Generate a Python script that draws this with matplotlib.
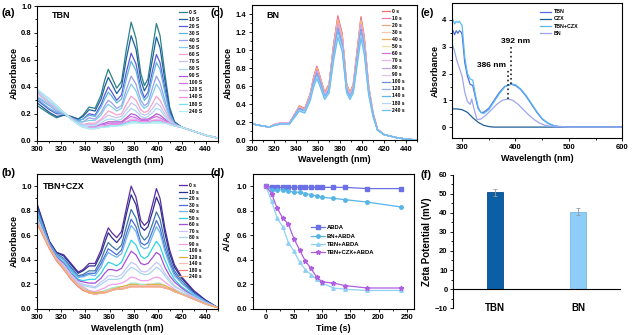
import numpy as np
import matplotlib
matplotlib.use('Agg')
import matplotlib.pyplot as plt

plt.rcParams['font.family'] = ['Liberation Sans', 'DejaVu Sans']
plt.rcParams['font.weight'] = 'bold'
plt.rcParams['axes.labelweight'] = 'bold'

nan = np.nan

# ---- data ----
wl = [300, 310, 316, 322, 328, 334, 338, 343, 348, 353, 356, 359, 362, 366, 370, 374,
      378, 382, 386, 389, 392, 396, 399, 402, 406, 410, 414, 420, 430, 440, 450]

times_a = ['0 S', '10 S', '20 S', '30 S', '40 S', '50 S', '60 S', '70 S',
           '80 S', '90 S', '100 S', '120 S', '140 S', '180 S', '240 S']
times_s = ['0 s', '10 s', '20 s', '30 s', '40 s', '50 s', '60 s', '70 s',
           '80 s', '90 s', '100 s', '120 s', '140 s', '180 s', '240 s']

# (a) TBN
tbn_abs = [
    [0.26, 0.20, 0.17, 0.19, 0.18, 0.16, 0.19, 0.25, 0.24, 0.34, 0.45, 0.53, 0.47, 0.39, 0.44, 0.68, 0.88, 0.76, 0.50, 0.41, 0.46, 0.70, 0.87, 0.78, 0.50, 0.25, 0.14, 0.10, 0.07, 0.04, 0.02],
    [0.28, 0.21, 0.18, 0.19, 0.18, 0.16, 0.18, 0.23, 0.22, 0.31, 0.40, 0.47, 0.42, 0.35, 0.40, 0.61, 0.78, 0.68, 0.45, 0.37, 0.42, 0.62, 0.77, 0.69, 0.45, 0.23, 0.14, 0.10, 0.07, 0.04, 0.02],
    [0.30, 0.23, 0.20, 0.20, 0.17, 0.15, 0.16, 0.20, 0.19, 0.27, 0.34, 0.40, 0.36, 0.30, 0.34, 0.51, 0.65, 0.57, 0.39, 0.32, 0.36, 0.53, 0.64, 0.58, 0.39, 0.21, 0.13, 0.10, 0.07, 0.04, 0.02],
    [0.31, 0.24, 0.21, 0.20, 0.17, 0.15, 0.16, 0.19, 0.18, 0.25, 0.31, 0.36, 0.33, 0.28, 0.31, 0.46, 0.59, 0.52, 0.36, 0.30, 0.33, 0.48, 0.58, 0.53, 0.36, 0.20, 0.13, 0.10, 0.07, 0.04, 0.02],
    [0.32, 0.26, 0.22, 0.20, 0.17, 0.14, 0.14, 0.17, 0.16, 0.21, 0.26, 0.30, 0.28, 0.24, 0.26, 0.38, 0.48, 0.42, 0.30, 0.26, 0.28, 0.40, 0.48, 0.43, 0.30, 0.18, 0.12, 0.10, 0.07, 0.04, 0.02],
    [0.33, 0.27, 0.23, 0.20, 0.17, 0.14, 0.14, 0.15, 0.15, 0.19, 0.24, 0.27, 0.25, 0.22, 0.24, 0.34, 0.42, 0.37, 0.27, 0.24, 0.26, 0.35, 0.42, 0.38, 0.27, 0.17, 0.12, 0.10, 0.07, 0.04, 0.02],
    [0.35, 0.28, 0.24, 0.21, 0.17, 0.13, 0.12, 0.13, 0.13, 0.16, 0.19, 0.22, 0.21, 0.19, 0.20, 0.27, 0.33, 0.30, 0.23, 0.21, 0.22, 0.28, 0.33, 0.30, 0.23, 0.16, 0.12, 0.10, 0.07, 0.04, 0.02],
    [0.36, 0.29, 0.24, 0.21, 0.16, 0.13, 0.12, 0.12, 0.12, 0.15, 0.17, 0.19, 0.18, 0.17, 0.18, 0.23, 0.28, 0.26, 0.20, 0.19, 0.20, 0.24, 0.28, 0.26, 0.20, 0.15, 0.12, 0.10, 0.07, 0.04, 0.02],
    [0.36, 0.29, 0.25, 0.21, 0.16, 0.13, 0.11, 0.11, 0.11, 0.13, 0.15, 0.16, 0.16, 0.15, 0.16, 0.20, 0.24, 0.22, 0.18, 0.17, 0.18, 0.21, 0.24, 0.23, 0.18, 0.14, 0.11, 0.10, 0.07, 0.04, 0.02],
    [nan, nan, nan, nan, nan, nan, nan, 0.10, 0.10, 0.12, 0.13, 0.14, 0.14, 0.14, 0.14, 0.17, 0.20, 0.19, 0.16, 0.16, 0.16, 0.18, 0.20, 0.19, 0.16, 0.13, 0.11, 0.10, 0.07, 0.04, 0.02],
    [nan, nan, nan, nan, nan, nan, nan, 0.10, 0.10, 0.12, 0.12, 0.13, 0.13, 0.13, 0.13, 0.16, 0.18, 0.17, 0.15, 0.15, 0.15, 0.17, 0.18, 0.17, 0.15, 0.13, 0.11, 0.10, 0.07, 0.04, 0.02],
    [0.37, 0.31, 0.26, 0.21, 0.16, 0.12, 0.10, 0.10, 0.10, 0.11, 0.11, 0.12, 0.12, 0.12, 0.12, 0.14, 0.16, 0.16, 0.14, 0.14, 0.14, 0.15, 0.16, 0.16, 0.14, 0.13, 0.11, 0.10, 0.07, 0.04, 0.02],
    [nan, nan, nan, nan, nan, nan, nan, 0.09, 0.09, 0.10, 0.11, 0.11, 0.12, 0.12, 0.12, 0.14, 0.15, 0.15, 0.14, 0.14, 0.14, 0.15, 0.15, 0.15, 0.14, 0.12, 0.11, 0.10, 0.07, 0.04, 0.02],
    [0.38, 0.31, 0.26, 0.21, 0.16, 0.12, 0.10, 0.09, 0.09, 0.10, 0.10, 0.11, 0.11, 0.11, 0.12, 0.13, 0.14, 0.14, 0.13, 0.13, 0.13, 0.14, 0.14, 0.14, 0.13, 0.12, 0.11, 0.10, 0.07, 0.04, 0.02],
    [0.38, 0.31, 0.26, 0.21, 0.16, 0.12, 0.10, 0.09, 0.09, 0.10, 0.10, 0.10, 0.11, 0.11, 0.11, 0.12, 0.13, 0.13, 0.13, 0.13, 0.13, 0.13, 0.13, 0.13, 0.13, 0.12, 0.11, 0.10, 0.07, 0.04, 0.02],
]
colors_a = ['#2a8088', '#1d5f9e', '#5a5cd8', '#5cb6e0', '#97a0e8', '#82cbe8',
            '#f3a2cc', '#c6c2f3', '#a8d7f3', '#b05ad6', '#d06ee6', '#dfb0f0',
            '#ef8ee0', '#7fdeee', '#b2eff2']

# (b) TBN+CZX
tbncz_abs = [
    [0.85, 0.55, 0.46, 0.44, 0.37, 0.30, 0.32, 0.37, 0.37, 0.48, 0.58, 0.66, 0.62, 0.58, 0.63, 0.82, 1.00, 0.91, 0.72, 0.68, 0.71, 0.86, 0.98, 0.90, 0.66, 0.48, 0.36, 0.26, 0.15, 0.07, 0.01],
    [0.84, 0.55, 0.46, 0.43, 0.36, 0.29, 0.31, 0.35, 0.35, 0.45, 0.54, 0.62, 0.58, 0.54, 0.59, 0.77, 0.93, 0.85, 0.67, 0.64, 0.67, 0.80, 0.91, 0.84, 0.62, 0.45, 0.34, 0.25, 0.14, 0.07, 0.01],
    [0.82, 0.54, 0.45, 0.41, 0.34, 0.27, 0.28, 0.31, 0.31, 0.40, 0.48, 0.54, 0.51, 0.48, 0.52, 0.67, 0.81, 0.74, 0.60, 0.56, 0.59, 0.70, 0.79, 0.73, 0.55, 0.41, 0.31, 0.23, 0.13, 0.06, 0.01],
    [0.80, 0.53, 0.44, 0.40, 0.33, 0.26, 0.27, 0.29, 0.29, 0.37, 0.43, 0.49, 0.47, 0.44, 0.48, 0.61, 0.73, 0.67, 0.54, 0.52, 0.54, 0.64, 0.72, 0.66, 0.50, 0.38, 0.29, 0.21, 0.13, 0.06, 0.01],
    [0.79, 0.53, 0.44, 0.40, 0.32, 0.26, 0.26, 0.28, 0.27, 0.34, 0.41, 0.46, 0.44, 0.42, 0.45, 0.57, 0.68, 0.63, 0.51, 0.49, 0.50, 0.60, 0.67, 0.62, 0.47, 0.36, 0.27, 0.21, 0.12, 0.06, 0.01],
    [0.77, 0.52, 0.43, 0.38, 0.31, 0.24, 0.23, 0.24, 0.24, 0.29, 0.34, 0.38, 0.37, 0.35, 0.38, 0.47, 0.56, 0.52, 0.43, 0.41, 0.43, 0.50, 0.55, 0.51, 0.40, 0.31, 0.24, 0.18, 0.11, 0.05, 0.01],
    [0.75, 0.52, 0.42, 0.37, 0.29, 0.23, 0.22, 0.21, 0.21, 0.25, 0.29, 0.32, 0.32, 0.31, 0.33, 0.40, 0.47, 0.44, 0.37, 0.36, 0.37, 0.42, 0.46, 0.44, 0.34, 0.27, 0.22, 0.17, 0.10, 0.05, 0.01],
    [0.74, 0.51, 0.41, 0.36, 0.28, 0.22, 0.20, 0.19, 0.18, 0.22, 0.24, 0.27, 0.27, 0.26, 0.28, 0.33, 0.38, 0.36, 0.31, 0.30, 0.31, 0.35, 0.38, 0.36, 0.29, 0.24, 0.19, 0.15, 0.10, 0.05, 0.01],
    [0.73, 0.51, 0.41, 0.35, 0.27, 0.21, 0.19, 0.18, 0.17, 0.20, 0.22, 0.24, 0.24, 0.24, 0.25, 0.30, 0.34, 0.32, 0.29, 0.28, 0.28, 0.31, 0.34, 0.32, 0.27, 0.22, 0.18, 0.15, 0.09, 0.05, 0.01],
    [0.71, 0.50, 0.41, 0.34, 0.26, 0.20, 0.18, 0.15, 0.14, 0.16, 0.17, 0.19, 0.20, 0.20, 0.21, 0.23, 0.26, 0.25, 0.23, 0.23, 0.23, 0.25, 0.26, 0.25, 0.22, 0.19, 0.16, 0.13, 0.09, 0.04, 0.01],
    [0.71, 0.50, 0.40, 0.33, 0.25, 0.19, 0.17, 0.14, 0.13, 0.14, 0.15, 0.16, 0.17, 0.18, 0.18, 0.19, 0.21, 0.21, 0.20, 0.20, 0.20, 0.20, 0.21, 0.21, 0.19, 0.17, 0.15, 0.13, 0.08, 0.04, 0.01],
    [0.70, 0.50, 0.40, 0.33, 0.25, 0.19, 0.16, 0.14, 0.13, 0.14, 0.14, 0.15, 0.16, 0.17, 0.18, 0.19, 0.20, 0.20, 0.19, 0.19, 0.20, 0.20, 0.20, 0.20, 0.19, 0.17, 0.15, 0.12, 0.08, 0.04, 0.01],
    [0.70, 0.50, 0.40, 0.33, 0.25, 0.19, 0.16, 0.13, 0.12, 0.13, 0.14, 0.15, 0.16, 0.16, 0.17, 0.18, 0.19, 0.19, 0.19, 0.19, 0.19, 0.19, 0.19, 0.19, 0.18, 0.16, 0.14, 0.12, 0.08, 0.04, 0.01],
    [0.69, 0.49, 0.39, 0.32, 0.24, 0.18, 0.15, 0.13, 0.12, 0.13, 0.13, 0.14, 0.15, 0.16, 0.16, 0.17, 0.18, 0.18, 0.18, 0.18, 0.18, 0.18, 0.18, 0.18, 0.17, 0.16, 0.14, 0.12, 0.08, 0.04, 0.01],
    [0.70, 0.50, 0.40, 0.33, 0.25, 0.19, 0.16, 0.13, 0.12, 0.13, 0.13, 0.14, 0.15, 0.16, 0.16, 0.17, 0.18, 0.18, 0.18, 0.18, 0.18, 0.18, 0.18, 0.18, 0.17, 0.16, 0.14, 0.12, 0.08, 0.04, 0.01],
]
colors_b = ['#5b2c9f', '#2b2f8f', '#3a78a8', '#4a6fdc', '#6fb4ea', '#2fd4e4',
            '#a44fd8', '#c7c7f5', '#a8d4f2', '#f0a0ec', '#98ecd8', '#e0b040',
            '#f4bfb0', '#f08070', '#f2b48a']

# (c) BN
bn_abs = [
    [0.18, 0.155, 0.145, 0.18, 0.19, 0.19, 0.27, 0.38, 0.35, 0.52, 0.70, 0.82, 0.70, 0.53, 0.62, 1.05, 1.38, 1.18, 0.62, 0.53, 0.62, 1.05, 1.37, 1.15, 0.60, 0.30, 0.12, 0.06, 0.03, 0.01, 0.0],
    [0.18, 0.155, 0.145, 0.18, 0.19, 0.19, 0.27, 0.37, 0.35, 0.51, 0.69, 0.81, 0.69, 0.52, 0.61, 1.04, 1.36, 1.16, 0.61, 0.52, 0.61, 1.04, 1.35, 1.13, 0.59, 0.30, 0.12, 0.06, 0.03, 0.01, 0.0],
    [0.18, 0.155, 0.145, 0.18, 0.19, 0.19, 0.26, 0.37, 0.34, 0.51, 0.68, 0.80, 0.68, 0.52, 0.60, 1.02, 1.34, 1.15, 0.60, 0.52, 0.60, 1.02, 1.33, 1.12, 0.58, 0.29, 0.12, 0.06, 0.03, 0.01, 0.0],
    [0.18, 0.155, 0.145, 0.18, 0.19, 0.19, 0.26, 0.37, 0.34, 0.50, 0.68, 0.79, 0.68, 0.51, 0.60, 1.01, 1.33, 1.14, 0.60, 0.51, 0.60, 1.01, 1.32, 1.11, 0.58, 0.29, 0.12, 0.06, 0.03, 0.01, 0.0],
    [0.18, 0.155, 0.145, 0.18, 0.19, 0.19, 0.26, 0.37, 0.34, 0.50, 0.67, 0.79, 0.67, 0.51, 0.60, 1.01, 1.32, 1.13, 0.60, 0.51, 0.60, 1.01, 1.31, 1.10, 0.58, 0.29, 0.12, 0.06, 0.03, 0.01, 0.0],
    [0.18, 0.155, 0.145, 0.18, 0.19, 0.19, 0.26, 0.36, 0.33, 0.49, 0.66, 0.77, 0.66, 0.50, 0.59, 0.99, 1.30, 1.11, 0.59, 0.50, 0.59, 0.99, 1.29, 1.08, 0.57, 0.29, 0.12, 0.06, 0.03, 0.01, 0.0],
    [0.18, 0.155, 0.145, 0.18, 0.19, 0.19, 0.26, 0.36, 0.33, 0.49, 0.66, 0.77, 0.66, 0.50, 0.58, 0.98, 1.29, 1.10, 0.58, 0.50, 0.58, 0.98, 1.28, 1.08, 0.56, 0.29, 0.12, 0.06, 0.03, 0.01, 0.0],
    [0.18, 0.155, 0.145, 0.18, 0.19, 0.19, 0.26, 0.36, 0.33, 0.49, 0.65, 0.76, 0.65, 0.50, 0.58, 0.97, 1.28, 1.10, 0.58, 0.50, 0.58, 0.97, 1.27, 1.07, 0.56, 0.28, 0.12, 0.06, 0.03, 0.01, 0.0],
    [0.18, 0.155, 0.145, 0.17, 0.18, 0.18, 0.26, 0.35, 0.33, 0.48, 0.65, 0.76, 0.65, 0.49, 0.57, 0.97, 1.27, 1.09, 0.57, 0.49, 0.57, 0.97, 1.26, 1.06, 0.55, 0.28, 0.11, 0.06, 0.03, 0.01, 0.0],
    [0.18, 0.155, 0.145, 0.17, 0.18, 0.18, 0.25, 0.35, 0.32, 0.48, 0.64, 0.74, 0.64, 0.49, 0.57, 0.95, 1.25, 1.07, 0.57, 0.49, 0.57, 0.95, 1.24, 1.04, 0.55, 0.28, 0.11, 0.06, 0.03, 0.01, 0.0],
    [0.18, 0.155, 0.145, 0.17, 0.18, 0.18, 0.25, 0.35, 0.32, 0.47, 0.64, 0.74, 0.64, 0.48, 0.56, 0.95, 1.24, 1.06, 0.56, 0.48, 0.56, 0.95, 1.23, 1.03, 0.54, 0.28, 0.11, 0.06, 0.03, 0.01, 0.0],
    [0.18, 0.155, 0.145, 0.17, 0.18, 0.18, 0.25, 0.34, 0.32, 0.47, 0.63, 0.73, 0.63, 0.48, 0.55, 0.93, 1.22, 1.05, 0.55, 0.48, 0.55, 0.93, 1.21, 1.02, 0.53, 0.27, 0.11, 0.06, 0.03, 0.01, 0.0],
    [0.18, 0.155, 0.145, 0.17, 0.18, 0.18, 0.25, 0.34, 0.31, 0.46, 0.62, 0.72, 0.62, 0.47, 0.55, 0.92, 1.20, 1.03, 0.55, 0.47, 0.55, 0.92, 1.19, 1.00, 0.53, 0.27, 0.11, 0.06, 0.03, 0.01, 0.0],
    [0.18, 0.155, 0.145, 0.17, 0.18, 0.18, 0.24, 0.33, 0.31, 0.45, 0.60, 0.70, 0.60, 0.46, 0.53, 0.89, 1.17, 1.01, 0.53, 0.46, 0.53, 0.89, 1.16, 0.98, 0.51, 0.26, 0.11, 0.06, 0.03, 0.01, 0.0],
    [0.18, 0.155, 0.145, 0.17, 0.18, 0.18, 0.24, 0.32, 0.30, 0.44, 0.59, 0.68, 0.59, 0.45, 0.52, 0.87, 1.14, 0.98, 0.52, 0.45, 0.52, 0.87, 1.13, 0.95, 0.50, 0.26, 0.11, 0.06, 0.03, 0.01, 0.0],
]
colors_c = ['#f06a6a', '#f07ab8', '#e8a878', '#f2c8ae', '#eeb262', '#f6dc9e',
            '#e06ee0', '#f2b0f0', '#c0a4ec', '#e2c2f2', '#6e8ce0', '#94b2f2',
            '#5cb6ee', '#b0d6f6', '#6ec0f0']

# (d) ABDA decay
t_d = [0, 10, 20, 30, 40, 50, 60, 70, 80, 90, 100, 120, 140, 180, 240]
abda = [1.0, 0.99, 0.99, 0.99, 0.99, 0.99, 0.99, 0.99, 0.99, 0.99, 0.99, 0.99, 0.99, 0.98, 0.98]
bn_abda = [1.0, 0.97, 0.97, 0.97, 0.96, 0.95, 0.95, 0.94, 0.93, 0.92, 0.91, 0.90, 0.89, 0.87, 0.83]
tbn_abda = [1.0, 0.88, 0.74, 0.67, 0.54, 0.47, 0.38, 0.32, 0.28, 0.24, 0.21, 0.17, 0.16, 0.15, 0.15]
tbncz_abda = [1.0, 0.94, 0.82, 0.74, 0.69, 0.57, 0.48, 0.39, 0.33, 0.26, 0.22, 0.21, 0.19, 0.17, 0.17]

# (e) absorbance of components
wl_e1 = [280, 283, 286, 289, 292, 295, 298, 300, 305, 310, 315, 320, 325, 330, 335,
         340, 350, 360, 370, 380, 392, 400, 410, 420, 430, 440, 450, 460, 470, 480, 500, 600]
tbn_e = [3.50, 3.60, 3.45, 3.60, 3.50, 3.60, 3.55, 3.45, 2.40, 1.90, 1.60, 1.55, 1.10, 0.70, 0.55,
         0.55, 0.70, 1.00, 1.30, 1.52, 1.60, 1.55, 1.40, 1.15, 0.85, 0.55, 0.30, 0.15, 0.06, 0.02, 0.0, 0.0]
tbncz_e = [3.90, 4.00, 3.85, 3.95, 3.90, 3.95, 3.85, 3.80, 2.60, 2.00, 1.80, 1.75, 1.20, 0.75, 0.55,
           0.50, 0.65, 0.95, 1.25, 1.50, 1.62, 1.58, 1.42, 1.18, 0.88, 0.58, 0.32, 0.16, 0.07, 0.03, 0.0, 0.0]
wl_e2 = [280, 290, 300, 310, 320, 330, 340, 350, 360, 600]
czx_e = [0.68, 0.68, 0.65, 0.55, 0.35, 0.18, 0.07, 0.02, 0.0, 0.0]
wl_e3 = [280, 285, 290, 300, 305, 310, 315, 318, 322, 328, 335, 345, 355, 365, 375, 386,
         395, 405, 415, 425, 435, 445, 455, 470, 500, 600]
bn_e = [3.15, 2.90, 2.50, 1.90, 1.30, 0.95, 0.85, 1.05, 0.70, 0.28, 0.30, 0.45, 0.65, 0.85, 1.00, 1.05,
        1.00, 0.85, 0.65, 0.45, 0.28, 0.15, 0.07, 0.02, 0.0, 0.0]

# (f) zeta potential
groups_f = ['TBN', 'BN']
zeta = [50.6, 40.5]
zeta_err = [2.0, 1.8]

# ---- drawing ----
fig = plt.figure(figsize=(6.33, 3.35), dpi=100)


def style(ax):
    ax.tick_params(which='both', direction='out', labelsize=5.5, width=0.6, pad=1.5)
    ax.tick_params(which='major', length=2.5)
    ax.tick_params(which='minor', length=1.5)
    for s in ax.spines.values():
        s.set_linewidth(0.8)


def spectra(ax, rows, labels, colors, ymax, ystep, tag, tagpos, legpos, lspace):
    for row, lab, c in zip(rows, labels, colors):
        ax.plot(wl, row, color=c, lw=0.9, label=lab)
    ax.set_xlim(300, 450)
    ax.set_ylim(0, ymax)
    ax.set_xticks(np.arange(300, 441, 20))
    ax.set_xticks(np.arange(310, 451, 10), minor=True)
    ax.set_yticks(np.arange(0, ymax + 0.01, ystep))
    ax.set_yticks(np.arange(ystep / 2, ymax, ystep), minor=True)
    ax.yaxis.set_major_formatter(matplotlib.ticker.FormatStrFormatter('%.1f'))
    ax.set_xlabel('Wavelength (nm)', fontsize=6.5, labelpad=2)
    ax.set_ylabel('Absorbance', fontsize=6.5, labelpad=2)
    ax.text(tagpos[0], tagpos[1], tag, transform=ax.transAxes, fontsize=6.5, va='center')
    ax.legend(loc='upper left', bbox_to_anchor=legpos, frameon=False,
              fontsize=3.6, handlelength=1.6, handletextpad=0.4,
              labelspacing=lspace, borderpad=0)
    style(ax)


ax_a = fig.add_axes([0.059, 0.580, 0.285, 0.402])
spectra(ax_a, tbn_abs, times_a, colors_a, 1.0, 0.2, 'TBN', (0.08, 0.93), (0.77, 0.99), 0.41)

ax_b = fig.add_axes([0.059, 0.078, 0.285, 0.403])
spectra(ax_b, tbncz_abs, times_s, colors_b, 1.1, 0.2, 'TBN+CZX', (0.03, 0.905), (0.77, 0.95), 0.3)

ax_c = fig.add_axes([0.398, 0.582, 0.261, 0.403])
spectra(ax_c, bn_abs, times_s, colors_c, 1.5, 0.2, 'BN', (0.09, 0.92), (0.77, 0.99), 0.41)

# (d)
ax_d = fig.add_axes([0.400, 0.078, 0.254, 0.403])
ax_d.plot(t_d, abda, color='#6b70e6', marker='s', ms=2.5, lw=0.9, label='ABDA')
ax_d.plot(t_d, bn_abda, color='#56b4e6', marker='o', ms=2.5, lw=0.9, label='BN+ABDA')
ax_d.plot(t_d, tbn_abda, color='#8fd0f4', marker='^', ms=2.5, lw=0.9, label='TBN+ABDA')
ax_d.plot(t_d, tbncz_abda, color='#b05ee0', marker='*', ms=3.5, lw=0.9, label='TBN+CZX+ABDA')
ax_d.set_xlim(-22.5, 263)
ax_d.set_ylim(0, 1.1)
ax_d.set_xticks([0, 50, 100, 150, 200, 250])
ax_d.set_xticks([25, 75, 125, 175, 225], minor=True)
ax_d.set_yticks(np.arange(0, 1.01, 0.2))
ax_d.set_yticks(np.arange(0.1, 1.1, 0.2), minor=True)
ax_d.set_xlabel('Time (s)', fontsize=6.5, labelpad=2)
ax_d.set_ylabel('A/A$_\\mathbf{0}$', fontsize=6.5, labelpad=2)
ax_d.legend(loc='upper left', bbox_to_anchor=(0.34, 0.64), frameon=False,
            fontsize=4.2, handlelength=2.4, handletextpad=0.4,
            labelspacing=0.55, borderpad=0)
style(ax_d)

# (e)
ax_e = fig.add_axes([0.714, 0.587, 0.269, 0.403])
ax_e.plot(wl_e1, tbn_e, color='#4f6fe0', lw=0.9, label='TBN')
ax_e.plot(wl_e2, czx_e, color='#1d5f96', lw=0.9, label='CZX')
ax_e.plot(wl_e1, tbncz_e, color='#5cb8f0', lw=0.9, label='TBN+CZX')
ax_e.plot(wl_e3, bn_e, color='#9da6ee', lw=0.9, label='BN')
ax_e.plot([386, 386], [1.05, 2.2], color='#222222', ls=':', lw=1.2)
ax_e.plot([392, 392], [1.6, 3.0], color='#222222', ls=':', lw=1.2)
ax_e.text(356, 2.3, '386 nm', fontsize=6, ha='center', va='center')
ax_e.text(400, 3.2, '392 nm', fontsize=6, ha='center', va='center')
ax_e.set_xlim(281, 600)
ax_e.set_ylim(-0.42, 4.62)
ax_e.set_xticks([300, 400, 500, 600])
ax_e.set_xticks([350, 450, 550], minor=True)
ax_e.set_yticks([0, 1, 2, 3, 4])
ax_e.set_yticks([0.5, 1.5, 2.5, 3.5], minor=True)
ax_e.set_xlabel('Wavelength (nm)', fontsize=6.5, labelpad=2)
ax_e.set_ylabel('Absorbance', fontsize=6.5, labelpad=2)
ax_e.legend(loc='upper left', bbox_to_anchor=(0.50, 0.975), frameon=False,
            fontsize=3.8, handlelength=2.2, handletextpad=0.4,
            labelspacing=0.4, borderpad=0)
style(ax_e)

# (f)
ax_f = fig.add_axes([0.716, 0.080, 0.263, 0.399])
ax_f.bar([0, 1], zeta, width=0.2, color=['#0a5fa5', '#8dcdf8'],
         edgecolor=['#084d88', '#78b8e6'], linewidth=0.6,
         yerr=zeta_err, ecolor='#999999', capsize=1.5,
         error_kw={'elinewidth': 0.6, 'capthick': 0.6})
ax_f.set_xlim(-0.5, 1.5)
ax_f.set_ylim(-10, 60)
ax_f.set_yticks(np.arange(-10, 61, 10))
ax_f.set_yticks(np.arange(-5, 60, 10), minor=True)
ax_f.set_xticks([0, 1])
ax_f.set_xticklabels(groups_f)
ax_f.spines['top'].set_visible(False)
ax_f.spines['right'].set_visible(False)
ax_f.spines['bottom'].set_position(('data', 0))
ax_f.set_ylabel('Zeta Potential (mV)', fontsize=7, labelpad=2)
style(ax_f)
ax_f.tick_params(axis='x', length=0, labelsize=7, pad=10)

# panel tags
for x, y, s in [(0.002, 0.962, '(a)'), (0.333, 0.962, '(c)'), (0.664, 0.962, '(e)'),
                (0.002, 0.483, '(b)'), (0.333, 0.483, '(d)'), (0.664, 0.478, '(f)')]:
    fig.text(x, y, s, fontsize=8, fontweight='bold', va='center')

fig.savefig('out.png', dpi=100)
